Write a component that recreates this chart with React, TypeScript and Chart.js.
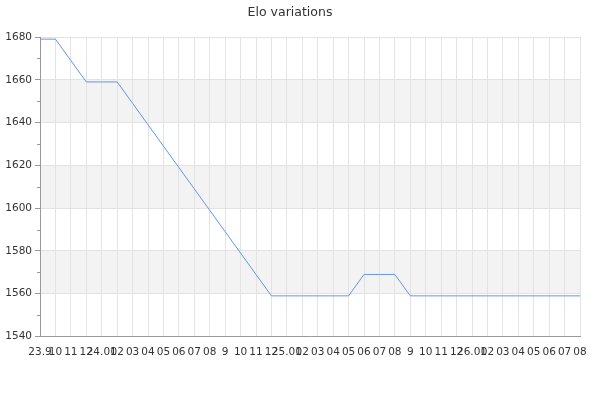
import React, { useEffect, useRef } from 'react';
import { Chart, registerables } from 'chart.js';

Chart.register(...registerables);

const months = [
  '23.9', '10', '11', '12',
  '24.01', '02', '03', '04', '05', '06', '07', '08', '9', '10', '11', '12',
  '25.01', '02', '03', '04', '05', '06', '07', '08', '9', '10', '11', '12',
  '26.01', '02', '03', '04', '05', '06', '07', '08',
];

const elo = [
  1679, 1679, 1669, 1659, 1659, 1659, 1649, 1639, 1629, 1619, 1609, 1599,
  1589, 1579, 1569, 1559, 1559, 1559, 1559, 1559, 1559, 1569, 1569, 1569,
  1559, 1559, 1559, 1559, 1559, 1559, 1559, 1559, 1559, 1559, 1559, 1559,
];

const yMin = 1540;
const yMax = 1680;

// grey bands between every other pair of major ticks
const bandsPlugin = {
  id: 'bands',
  beforeDraw(chart: any) {
    const { ctx, chartArea, scales } = chart;
    const y = scales.y;
    ctx.save();
    ctx.fillStyle = '#f3f3f3';
    for (let v = yMin + 20; v < yMax; v += 40) {
      const top = y.getPixelForValue(v + 20);
      const bottom = y.getPixelForValue(v);
      ctx.fillRect(chartArea.left, top, chartArea.right - chartArea.left, bottom - top);
    }
    ctx.restore();
  },
};

// short minor ticks on the left axis
const minorTicks = {
  id: 'minorTicks',
  afterDraw(chart: any) {
    const { ctx, chartArea, scales } = chart;
    const y = scales.y;
    ctx.save();
    ctx.strokeStyle = '#999';
    ctx.lineWidth = 1;
    for (let v = yMin + 10; v < yMax; v += 20) {
      const py = Math.round(y.getPixelForValue(v)) + 0.5;
      ctx.beginPath();
      ctx.moveTo(chartArea.left - 3, py);
      ctx.lineTo(chartArea.left, py);
      ctx.stroke();
    }
    ctx.restore();
  },
};

const App = () => {
  const chartRef = useRef<HTMLCanvasElement>(null);

  useEffect(() => {
    Chart.defaults.font.family = '"DejaVu Sans", sans-serif';
    Chart.defaults.color = '#333';

    const chart = new Chart(chartRef.current as HTMLCanvasElement, {
      type: 'line',
      data: {
        labels: months,
        datasets: [
          {
            label: 'Elo',
            data: elo,
            borderColor: '#6495ed',
            borderWidth: 1,
            pointRadius: 0,
            tension: 0,
            fill: false,
          },
        ],
      },
      options: {
        animation: false,
        responsive: true,
        maintainAspectRatio: false,
        layout: { padding: { left: 0, right: 20, top: 0, bottom: 0 } },
        plugins: {
          legend: { display: false },
          tooltip: { enabled: false },
          title: {
            display: true,
            text: 'Elo variations',
            color: '#333',
            font: { size: 12.5, weight: 'normal' },
            padding: { top: 5, bottom: 17 },
          },
        },
        scales: {
          x: {
            offset: false,
            border: { color: '#999' },
            grid: { color: '#e3e3e3', drawTicks: false },
            ticks: {
              autoSkip: false,
              maxRotation: 0,
              minRotation: 0,
              padding: 9,
              color: '#333',
              font: { size: 10.5 },
            },
            afterFit(scale: any) {
              scale.height = 63.5;
            },
          },
          y: {
            min: yMin,
            max: yMax,
            border: { color: '#999' },
            grid: {
              color: (ctx: any) => (ctx.tick && ctx.tick.value % 20 === 0 ? '#e3e3e3' : 'transparent'),
              tickColor: (ctx: any) => (ctx.tick && ctx.tick.value % 20 === 0 ? '#999' : 'transparent'),
              tickLength: 5,
            },
            ticks: {
              stepSize: 10,
              padding: 3,
              color: '#333',
              font: { size: 10.5 },
              callback: (v: any) => (Number(v) % 20 === 0 ? String(v) : ''),
            },
            afterFit(scale: any) {
              scale.width = 40;
            },
          },
        },
      },
      plugins: [bandsPlugin, minorTicks],
    });

    return () => chart.destroy();
  }, []);

  return (
    <div style={{ position: 'absolute', left: 0, top: 0, width: 600, height: 400 }}>
      <canvas ref={chartRef} />
    </div>
  );
};

export default App;
